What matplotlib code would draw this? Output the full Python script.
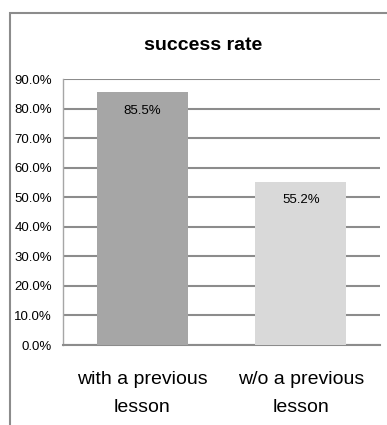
import matplotlib
matplotlib.use("Agg")
import matplotlib.pyplot as plt
from matplotlib.patches import Rectangle

categories = ["with a previous\nlesson", "w/o a previous\nlesson"]
rates = [85.5, 55.2]
bar_colors = ["#a6a6a6", "#d9d9d9"]
yticks = [0, 10, 20, 30, 40, 50, 60, 70, 80, 90]

plt.rcParams['font.family'] = ['Liberation Sans', 'DejaVu Sans']

W, H = 387, 425
fig = plt.figure(figsize=(W / 100, H / 100), dpi=100)

# outer chart frame (cut off at right and bottom like the source)
fig.patches.append(Rectangle((10 / W, -0.1), 1.2, 1 - 12.5 / H + 0.1,
                             transform=fig.transFigure, fill=False,
                             edgecolor="#8c8c8c", linewidth=1.5))

ax = fig.add_axes([63 / W, 1 - 345 / H, (380 - 63) / W, (345 - 79) / H])
x = range(len(categories))
bars = ax.bar(x, rates, width=0.575, color=bar_colors, zorder=3)
for b, r in zip(bars, rates):
    ax.text(b.get_x() + b.get_width() / 2, r - 6.3, f"{r:.1f}%",
            ha="center", va="center", fontsize=9.5, zorder=4)

ax.set_xlim(-0.5, 1.5)
ax.set_ylim(0, 90)
ax.set_yticks(yticks)
ax.set_yticklabels([f"{t:.1f}%" for t in yticks], fontsize=9.5)
ax.set_xticks(list(x))
ax.set_xticklabels(categories, fontsize=14, linespacing=1.85)
ax.tick_params(axis="both", length=0)
ax.tick_params(axis="y", pad=8)
ax.tick_params(axis="x", pad=19)
ax.yaxis.grid(True, color="#8c8c8c", linewidth=1.5, zorder=0)
for s in ["top", "right"]:
    ax.spines[s].set_visible(False)
ax.spines["left"].set_color("#a6a6a6")
ax.spines["left"].set_linewidth(1.0)
ax.spines["bottom"].set_color("#8c8c8c")
ax.spines["bottom"].set_linewidth(1.5)

fig.text(203 / W, 1 - 46 / H, "success rate", ha="center", va="center",
         fontsize=14, fontweight="bold")

fig.savefig("out.png", dpi=100)
